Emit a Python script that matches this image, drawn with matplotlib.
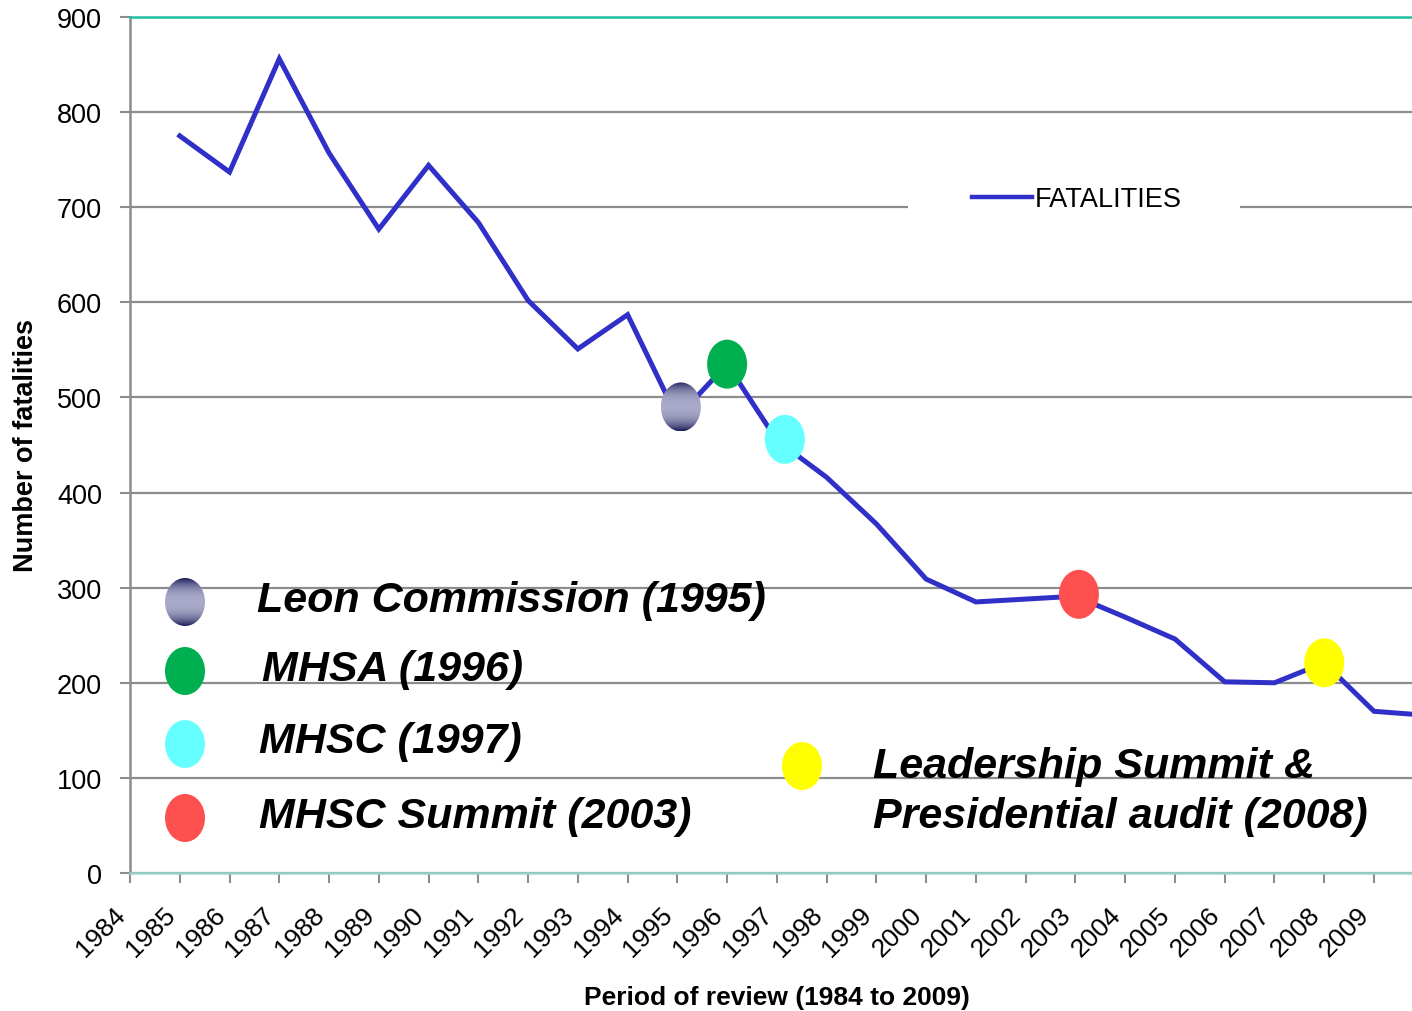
import numpy as np
import matplotlib
matplotlib.use("Agg")
import matplotlib.pyplot as plt
from matplotlib.patches import Ellipse, Rectangle
from matplotlib.colors import to_rgb
import matplotlib.transforms as mtransforms

# ---------------- data ----------------
years = list(range(1985, 2011))
fatalities = [775, 737, 856, 757, 677, 744, 684, 602, 551, 587,
              479, 535, 455, 416, 367, 309, 285, 288, 291, 269,
              246, 201, 200, 221, 170, 166]
tick_years = list(range(1984, 2010))
yticks = [0, 100, 200, 300, 400, 500, 600, 700, 800, 900]

# event markers on the curve (year, value)
event_x = [1995.07, 1996.0, 1997.16, 2003.07, 2008.0]
event_y = [490, 535, 456, 293, 221]
event_colors = ["gradient", "#00B050", "#66FFFF", "#FF5050", "#FFFF00"]

# annotation key
key_labels = ["Leon Commission (1995)", "MHSA (1996)", "MHSC (1997)",
              "MHSC Summit (2003)"]
key_colors = ["gradient", "#00B050", "#66FFFF", "#FF5050"]
lead_label = "Leadership Summit &\nPresidential audit (2008)"
lead_color = "#FFFF00"

series_name = "FATALITIES"
xlabel = "Period of review (1984 to 2009)"
ylabel = "Number of fatalities"

LINE = "#3030C8"
GRID = "#8C8C8C"
W, H = 1412, 1012

plt.rcParams['font.family'] = ['Liberation Sans', 'DejaVu Sans']

fig = plt.figure(figsize=(W / 100, H / 100), dpi=100)
ax = fig.add_axes([130 / W, (H - 874) / H, (W - 130) / W, (874 - 18) / H])

ax.plot(years, fatalities, color=LINE, lw=3.6, solid_joinstyle='miter',
        label=series_name, zorder=3)
ax.set_xlim(1984, 1984 + (W - 130) / 49.76)
ax.set_ylim(0, 900)
ax.set_yticks(yticks)
ax.set_xticks(tick_years)
ax.set_xticklabels([str(y) for y in tick_years], rotation=45, ha='right',
                   va='top', fontsize=19)
offset = mtransforms.ScaledTranslation(5 / 100, 0, fig.dpi_scale_trans)
for lbl in ax.get_xticklabels():
    lbl.set_transform(lbl.get_transform() + offset)
ax.tick_params(axis='x', length=7, width=1.5, color=GRID, pad=14)
ax.tick_params(axis='y', length=7, width=1.5, color=GRID, pad=13, labelsize=19.5)
ax.grid(axis='y', color=GRID, lw=1.6)
ax.set_axisbelow(True)
ax.spines['right'].set_visible(False)
ax.spines['top'].set_color('#20C0A0')
ax.spines['top'].set_linewidth(1.8)
ax.spines['bottom'].set_color('#9AD6C8')
ax.spines['bottom'].set_linewidth(1.8)
ax.spines['left'].set_color(GRID)
ax.spines['left'].set_linewidth(1.8)

ax.set_xlabel(xlabel, fontsize=19, fontweight='bold')
ax.xaxis.set_label_coords((777 - 130) / (W - 130), -(986 - 874) / (874 - 18))
ax.set_ylabel(ylabel, fontsize=19.5, fontweight='bold')
ax.yaxis.set_label_coords(-(130 - 39) / (W - 130), (874 - 446) / (874 - 18))

# legend with white backing box
ax.add_patch(Rectangle(((908 - 130) / (W - 130), (874 - 235) / 856),
                       (1240 - 908) / (W - 130), 70 / 856,
                       transform=ax.transAxes, facecolor='white',
                       edgecolor='none', zorder=1.5))
leg = ax.legend(loc='center', bbox_to_anchor=((1077 - 130) / (W - 130), (874 - 200) / 856),
                frameon=False, fontsize=19.5, handlelength=2.2,
                handletextpad=0.1)
for h in leg.get_lines():
    h.set_linewidth(3.2)


def gradient_img():
    t = np.linspace(0, 1, 200)
    g = 1 - np.abs(2 * t - 1) ** 2.5
    dark = np.array(to_rgb('#1A1A58'))
    light = np.array(to_rgb('#A9A9C9'))
    cols = dark[None, :] + (light - dark)[None, :] * g[:, None]
    return np.repeat(cols[:, None, :], 2, axis=1)


def draw_ellipse(axis, cx, cy, w, h, color, z):
    e = Ellipse((cx, cy), w, h, facecolor='none' if color == 'gradient' else color,
                edgecolor='none', zorder=z)
    axis.add_patch(e)
    if color == 'gradient':
        img = gradient_img()
        ext = [cx - w / 2, cx + w / 2, cy - h / 2, cy + h / 2]
        im = axis.imshow(img, extent=ext, aspect='auto', zorder=z)
        im.set_clip_path(e)


# markers on the curve (data coords)
mw, mh = 40 / 49.76, 49 / 0.9511
for x, y, c in zip(event_x, event_y, event_colors):
    draw_ellipse(ax, x, y, mw, mh, c, 4)
ax.set_xlim(1984, 1984 + (W - 130) / 49.76)
ax.set_ylim(0, 900)

# overlay in pixel coords for the key
ov = fig.add_axes([0, 0, 1, 1], zorder=5)
ov.set_xlim(0, W)
ov.set_ylim(H, 0)
ov.axis('off')

key_px_y = [603, 672, 745, 819]
key_txt_x = [257, 262, 259, 259]
key_txt_y = [601, 670, 742, 817]
for lab, c, ey, tx, ty in zip(key_labels, key_colors, key_px_y, key_txt_x, key_txt_y):
    draw_ellipse(ov, 185, ey, 40, 48, c, 6)
    ov.text(tx, ty, lab, fontsize=31, fontweight='bold', fontstyle='italic',
            ha='left', va='center', zorder=7)
draw_ellipse(ov, 802, 767, 40, 48, lead_color, 6)
ov.text(873, 792, lead_label, fontsize=31, fontweight='bold', fontstyle='italic',
        ha='left', va='center', linespacing=1.32, zorder=7)
ov.set_xlim(0, W)
ov.set_ylim(H, 0)

fig.savefig('out.png', dpi=100)
